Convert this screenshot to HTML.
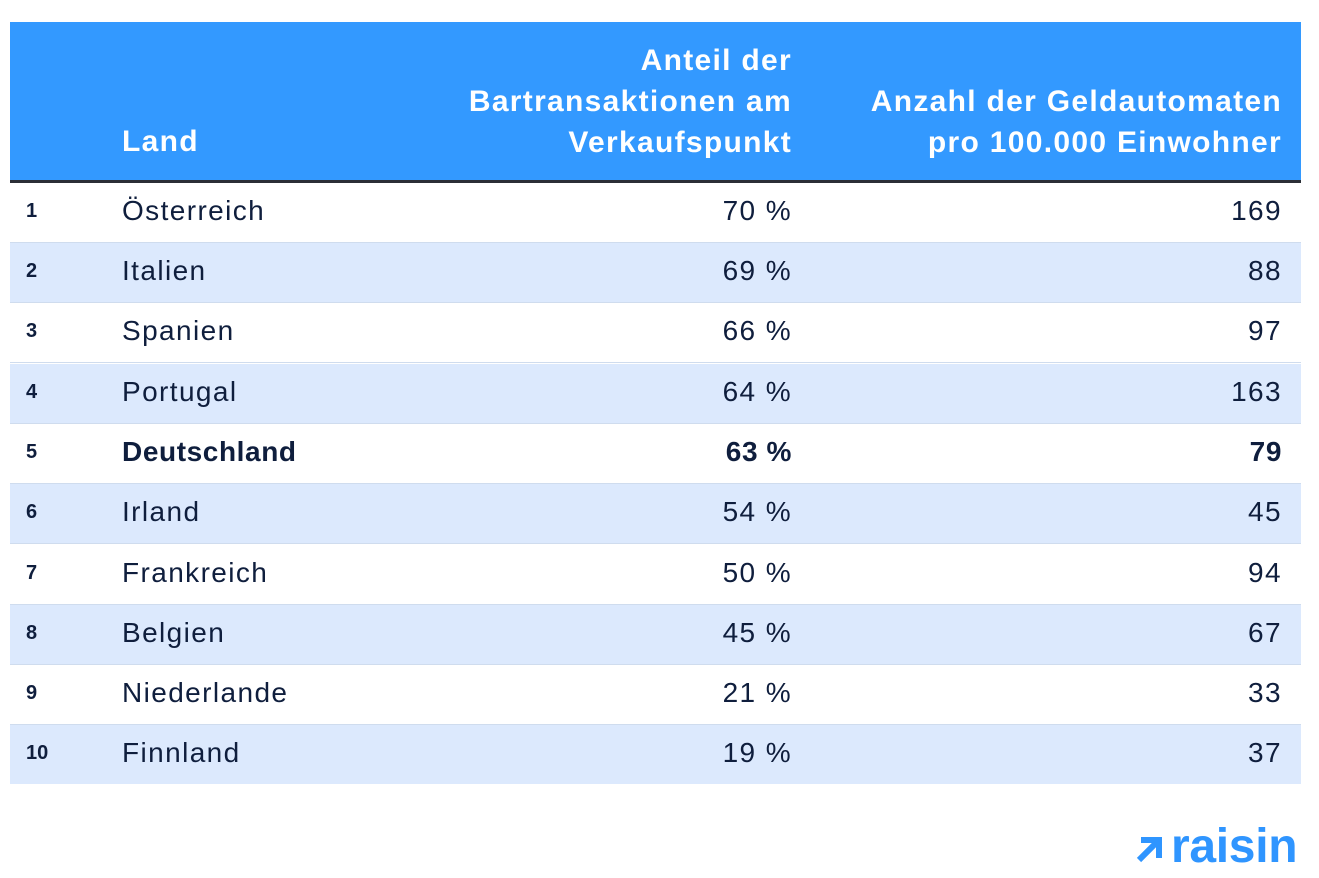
<!DOCTYPE html>
<html><head><meta charset="utf-8"><style>
body{margin:0;width:1319px;height:878px;background:#fff;font-family:"Liberation Sans",sans-serif;color:#0f1e3d;position:relative;overflow:hidden}
.hdr{position:absolute;left:10px;top:22px;width:1291px;height:158px;background:#3399ff;border-bottom:3px solid #2b2f36}
.h{position:absolute;color:#fff;font-weight:bold;font-size:30px;line-height:41px;letter-spacing:1.3px;white-space:nowrap}
.row{position:absolute;left:10px;width:1291px;height:59px;border-bottom:1.5px solid #cfdcee}
.alt{background:#dce9fd}
.row span{position:absolute;top:13px;font-size:28px;line-height:30px;letter-spacing:1.4px}
.n{left:16px;font-weight:bold;font-size:20px!important;letter-spacing:0!important}
.l{left:112px}
.p{right:509px}
.a{right:19px}
.b span{font-weight:bold;letter-spacing:0.6px}
.logo{position:absolute;left:1135px;top:819px;font-size:48px;font-weight:bold;color:#2f95ff;letter-spacing:-0.3px;line-height:56px}
</style></head><body>
<div class="hdr">
<div class="h" style="left:112px;top:99px">Land</div>
<div class="h" style="right:509px;top:18px;text-align:right">Anteil der<br>Bartransaktionen am<br>Verkaufspunkt</div>
<div class="h" style="right:19px;top:59px;text-align:right">Anzahl der Geldautomaten<br>pro 100.000 Einwohner</div>
</div>
<div class="row" style="top:183px"><span class="n">1</span><span class="l">Österreich</span><span class="p">70 %</span><span class="a">169</span></div>
<div class="row alt" style="top:243px"><span class="n">2</span><span class="l">Italien</span><span class="p">69 %</span><span class="a">88</span></div>
<div class="row" style="top:303px"><span class="n">3</span><span class="l">Spanien</span><span class="p">66 %</span><span class="a">97</span></div>
<div class="row alt" style="top:364px"><span class="n">4</span><span class="l">Portugal</span><span class="p">64 %</span><span class="a">163</span></div>
<div class="row b" style="top:424px"><span class="n">5</span><span class="l">Deutschland</span><span class="p">63 %</span><span class="a">79</span></div>
<div class="row alt" style="top:484px"><span class="n">6</span><span class="l">Irland</span><span class="p">54 %</span><span class="a">45</span></div>
<div class="row" style="top:545px"><span class="n">7</span><span class="l">Frankreich</span><span class="p">50 %</span><span class="a">94</span></div>
<div class="row alt" style="top:605px"><span class="n">8</span><span class="l">Belgien</span><span class="p">45 %</span><span class="a">67</span></div>
<div class="row" style="top:665px"><span class="n">9</span><span class="l">Niederlande</span><span class="p">21 %</span><span class="a">33</span></div>
<div class="row alt" style="top:725px;border-bottom:none"><span class="n">10</span><span class="l">Finnland</span><span class="p">19 %</span><span class="a">37</span></div>
<div class="logo"><svg width="30" height="30" viewBox="0 0 30 30" style="vertical-align:-1px;margin-right:6px"><path d="M4 27 L23 8 M6 7 H24 V25" stroke="#2f95ff" stroke-width="6" fill="none"/></svg>raisin</div>
</body></html>
